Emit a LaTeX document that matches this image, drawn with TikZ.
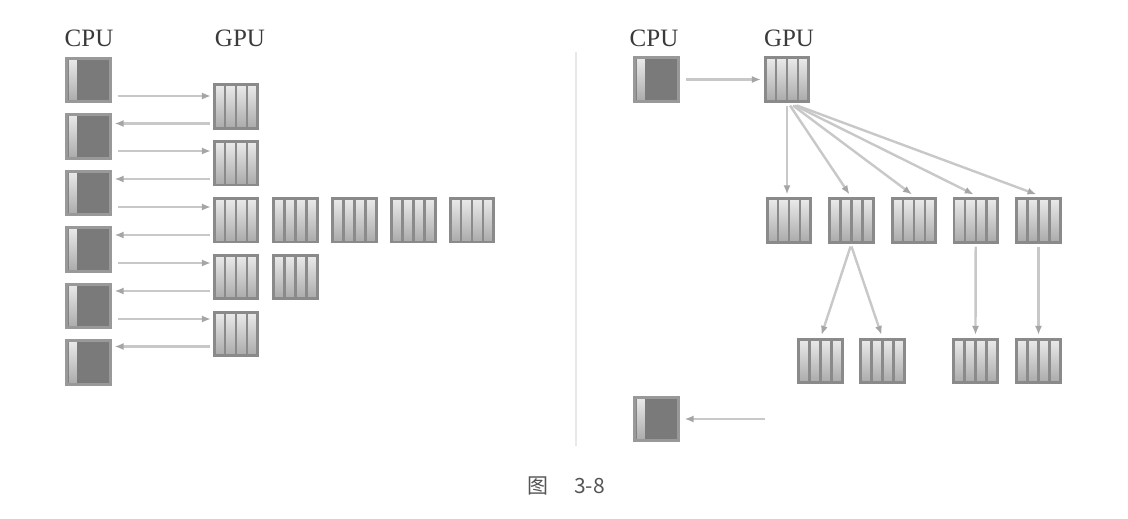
\documentclass[tikz,border=0pt]{standalone}
\usepackage{fontspec}
\setmainfont{Liberation Serif}
\newfontfamily\cjkfont{Noto Sans CJK SC}
\usetikzlibrary{arrows.meta,calc}
\definecolor{cpufill}{HTML}{7A7A7A}
\definecolor{cpuedge}{HTML}{999999}
\definecolor{gpuedge}{HTML}{8A8A8A}
\definecolor{gpulight}{HTML}{EAEAEA}
\definecolor{gpudark}{HTML}{AAAAAA}
\definecolor{arrline}{HTML}{C8C8C8}
\definecolor{arrtip}{HTML}{A5A5A5}
\definecolor{labelc}{HTML}{3A3A3A}
\definecolor{capc}{HTML}{555555}
\tikzset{
  box/.style={minimum width=43.5pt, minimum height=43.5pt, inner sep=0pt, line width=2.6pt},
  cpu/.style={box, draw=cpuedge, fill=cpufill,
    path picture={\shade[top color=gpulight, bottom color=gpudark]
      ([xshift=2pt,yshift=-2pt]path picture bounding box.north west) rectangle
      ([xshift=10pt,yshift=2pt]path picture bounding box.south west);}},
  gpu/.style={box, draw=gpuedge,
    path picture={\shade[top color=gpulight, bottom color=gpudark]
      (path picture bounding box.south west) rectangle (path picture bounding box.north east);
      \foreach \f in {0.25,0.5,0.75}
        \draw[gpuedge, line width=2.4pt]
          ($(path picture bounding box.south west)!\f!(path picture bounding box.south east)$) --
          ($(path picture bounding box.north west)!\f!(path picture bounding box.north east)$);}},
  arr/.style={draw=arrline, line width=2.4pt, -{Latex[length=9pt,width=7pt,color=arrtip]}},
  lab/.style={font=\fontsize{25}{25}\selectfont, text=labelc, inner sep=0pt},
}
\begin{document}
\begin{tikzpicture}[x=1pt,y=-1pt]
\useasboundingbox[fill=white] (0,0) rectangle (1128,519);
% labels
\node[lab] (lc) at (89,38) {CPU};
\node[lab] (lg) at (240,38) {GPU};
\node[lab] (rlc) at (654,38) {CPU};
\node[lab] (rlg) at (789,38) {GPU};
% left CPUs
\foreach \i/\y in {1/80,2/136.5,3/193,4/249.5,5/306,6/362.5}
  \node[cpu] (c\i) at (88.5,\y) {};
% left GPUs
\foreach \i/\y in {1/106.5,2/163.3,3/220.3,4/277,5/334}
  \node[gpu] (g\i) at (236,\y) {};
\node[gpu] (g3b) at (295.5,220.3) {};
\node[gpu] (g3c) at (354.5,220.3) {};
\node[gpu] (g3d) at (413.5,220.3) {};
\node[gpu] (g3e) at (472,220.3) {};
\node[gpu] (g4b) at (295.5,277) {};
% left arrows
\foreach \i/\ya/\yb in {1/96/123.5,2/151/179,3/207/235,4/263/291,5/319/346.5}{
  \pgfmathtruncatemacro\n{\i+1}
  \draw[arr] (c\i.east |- 0,\ya) ++(6,0) -- ($(g\i.west |- 0,\ya)+(-2,0)$);
  \draw[arr] ($(g\i.west |- 0,\yb)+(-3,0)$) -- ($(c\n.east |- 0,\yb)+(3,0)$);
}
% divider
\draw[draw=black!9, line width=2pt] (576,52) coordinate (d1) -- (576,446) coordinate (d2);
% right side
\node[cpu] (rc) at (656.5,79.5) {};
\node[gpu] (rg) at (787,79.5) {};
\draw[arr] ($(rc.east)+(6,0)$) -- ($(rg.west)+(-3,0)$);
\foreach \i/\x in {1/789,2/851.5,3/914,4/975.7,5/1038.5}
  \node[gpu] (r\i) at (\x,220.5) {};
\foreach \i/\x in {1/820.5,2/882.5,3/975.5,4/1038.5}
  \node[gpu] (s\i) at (\x,361) {};
\draw[arr] ($(rg.south)+(0,3)$) -- ($(r1.north)+(-2,-3)$);
\draw[arr] ($(rg.south)+(3,3)$) -- ($(r2.north)+(-2,-3)$);
\draw[arr] ($(rg.south)+(6,3)$) -- ($(r3.north)+(-2,-3)$);
\draw[arr] ($(rg.south)+(8,3)$) -- ($(r4.north)+(-2,-3)$);
\draw[arr] ($(rg.south)+(10,3)$) -- ($(r5.north)+(-2,-3)$);
\draw[arr] ($(r2.south)+(-1,3)$) -- ($(s1.north)+(1,-3)$);
\draw[arr] ($(r2.south)+(0,3)$) -- ($(s2.north)+(-1,-3)$);
\draw[arr] ($(r4.south)+(0,3)$) -- ($(s3.north)+(0,-3)$);
\draw[arr] ($(r5.south)+(0,3)$) -- ($(s4.north)+(0,-3)$);
\node[cpu] (rc2) at (656.5,419) {};
\coordinate (free) at (765,419);
\draw[arr] (free) -- ($(rc2.east)+(5,0)$);
% caption
\node[font=\cjkfont\fontsize{21}{21}\selectfont, text=capc, inner sep=0pt] (cap) at (566,486) {图\hspace{26pt}3-8};
\end{tikzpicture}
\end{document}
